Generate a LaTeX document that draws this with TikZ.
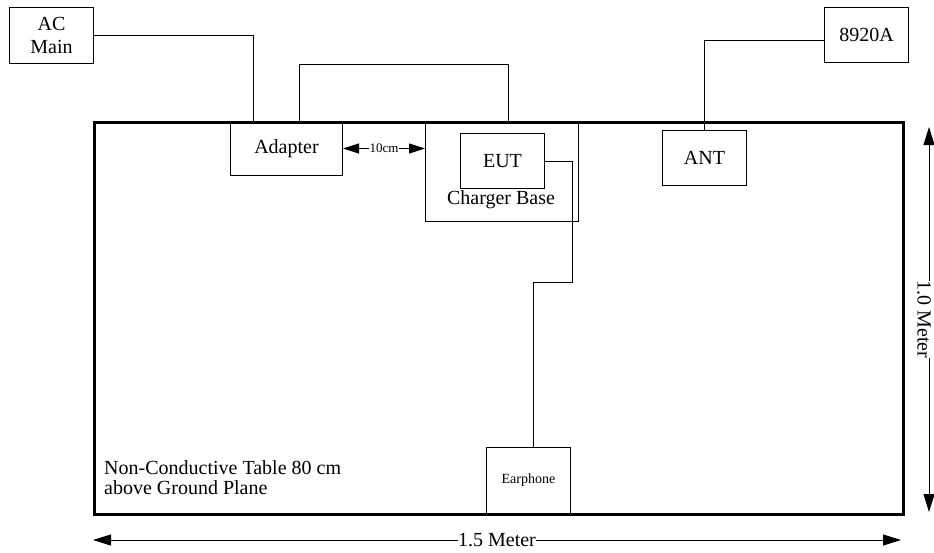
\documentclass[tikz,border=0pt]{standalone}
\usepackage{fontspec}
\setmainfont{Liberation Serif}
\usetikzlibrary{arrows.meta}
\begin{document}
\begin{tikzpicture}[x=1pt,y=-1pt,
  box/.style={draw,line width=1pt,inner sep=0pt,anchor=north west,font=\fontsize{20}{23}\selectfont,align=center},
  wire/.style={line width=0.8pt},
  bigtxt/.style={font=\fontsize{20}{20}\selectfont},
  dimline/.style={line width=0.8pt,{Triangle[length=18pt,width=11pt]}-{Triangle[length=18pt,width=11pt]}},
  smalldim/.style={line width=0.8pt,{Triangle[length=16pt,width=10pt]}-{Triangle[length=16pt,width=10pt]}},
  dimlabel/.style={fill=white,inner sep=1pt}]
\useasboundingbox (0,0) rectangle (934,552);
% table
\node[draw,line width=2.5pt,anchor=north west,minimum width=809pt,minimum height=392pt,inner sep=0pt] (table) at (93,121) {};
% boxes
\node[box,minimum width=84pt,minimum height=56pt] (ac) at (9,7) {AC\\Main};
\node[box,minimum width=112pt,minimum height=54pt] (adapter) at (230,121) {Adapter};
\node[box,minimum width=153pt,minimum height=100pt] (charger) at (425,121) {};
\node[box,minimum width=84pt,minimum height=55pt] (eut) at (460,133) {EUT};
\node[box,minimum width=84pt,minimum height=55pt] (ant) at (662,130) {ANT};
\node[box,minimum width=84pt,minimum height=55pt] (g8920) at (824,7) {8920A};
\node[box,minimum width=84pt,minimum height=66pt,font=\fontsize{14}{16}\selectfont] (earphone) at (486,447) {Earphone};
\node[bigtxt,inner sep=0pt] (cblabel) at (501,200) {Charger Base};
\node[bigtxt,inner sep=0pt,anchor=north west,align=left] (tabletext) at (104,460) {Non-Conductive Table 80 cm\\above Ground Plane};
% wires
\draw[wire] (ac.east) -| ([xshift=23pt]adapter.north west);
\draw[wire] ([xshift=69pt]adapter.north west) -- ++(0,-57) -| ([xshift=83pt]charger.north west);
\coordinate (k) at (572,282);
\draw[wire] (eut.east) -| (k) -| ([xshift=47pt]earphone.north west);
\draw[wire] ([yshift=-5.5pt]g8920.west) -| (ant.north);
% 10 cm
\draw[smalldim] (adapter.east) -- (adapter.east -| charger.west)
  node[midway,dimlabel,font=\fontsize{13}{13}\selectfont] (tencm) {10cm};
% dimensions
\coordinate (hl) at (93,540);
\coordinate (hr) at (901,540);
\draw[dimline] (hl) -- (hr) node[midway,dimlabel,bigtxt,inner sep=0pt] (hlabel) {1.5 Meter};
\coordinate (vt) at (929,127);
\coordinate (vb) at (929,512);
\draw[dimline] (vt) -- (vb);
\node[fill=white,bigtxt,inner sep=0pt,rotate=-90] (vlabel) at (924,319.5) {1.0 Meter};
\end{tikzpicture}
\end{document}
